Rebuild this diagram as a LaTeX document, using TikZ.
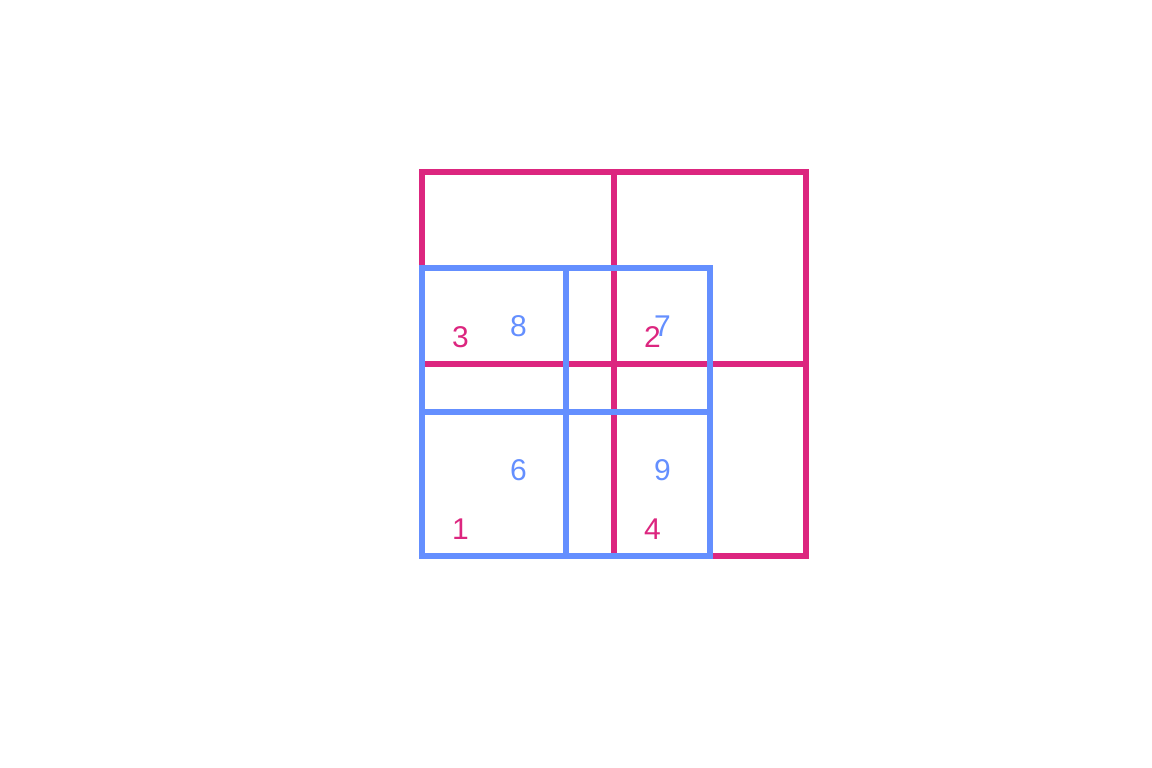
\documentclass[tikz,border=0pt]{standalone}
\usepackage{fontspec}
\setmainfont{Liberation Sans}
\usetikzlibrary{positioning}
\definecolor{gridmag}{HTML}{DC267F}
\definecolor{gridblue}{HTML}{648FFF}

\begin{document}
\begin{tikzpicture}[
    x=1pt,y=-1pt,
    magline/.style={draw=gridmag,line width=6pt},
    blueline/.style={draw=gridblue,line width=6pt},
    maglab/.style={text=gridmag,inner sep=0pt,font=\fontsize{30}{32}\selectfont},
    bluelab/.style={text=gridblue,inner sep=0pt,font=\fontsize{30}{32}\selectfont}
  ]
    \useasboundingbox (0,0) rectangle (1152,768);
    % first grid
    \draw[magline] (422,172) rectangle (806,556);
    \draw[magline] (614,172) -- (614,556) (422,364) -- (806,364);
    % second grid
    \draw[blueline] (422,268) rectangle (710,556);
    \draw[blueline] (566,268) -- (566,556) (422,412) -- (710,412);
    % cell labels
    \node[bluelab] (b8) at (518.5,326) {8};
    \node[bluelab] (b7) at (662.5,326) {7};
    \node[bluelab] (b6) at (518.5,470) {6};
    \node[bluelab] (b9) at (662.5,470) {9};
    \node[maglab] (m3) at (460.5,337) {3};
    \node[maglab] (m2) at (652.5,337) {2};
    \node[maglab] (m1) at (460.5,529) {1};
    \node[maglab] (m4) at (652.5,529) {4};
  \end{tikzpicture}
\end{document}
